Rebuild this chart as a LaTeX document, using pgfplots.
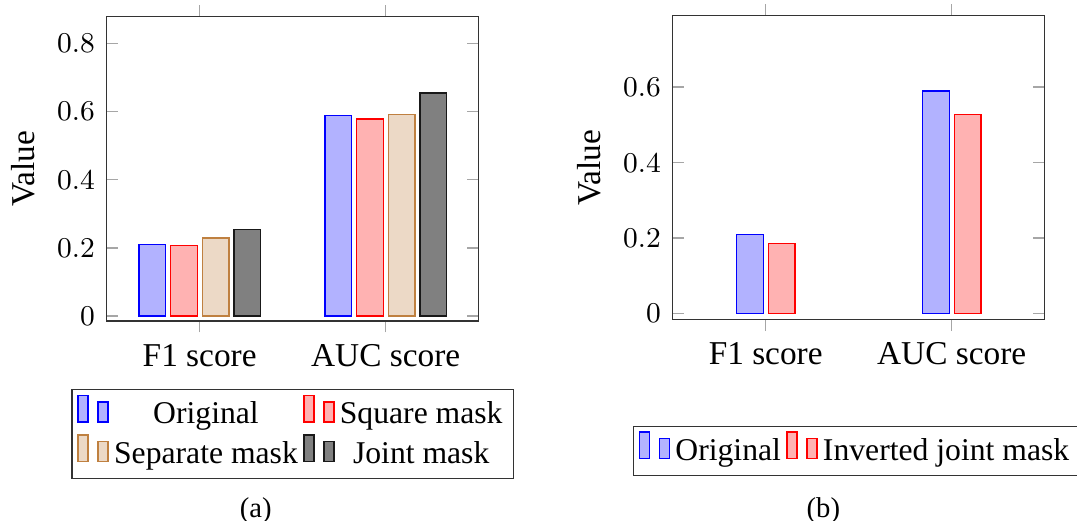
\documentclass[border=0pt]{standalone}
\usepackage{fontspec}
\setmainfont{Liberation Serif}
\newfontfamily\lmr{Latin Modern Roman}
\usepackage{pgfplots}
\pgfplotsset{compat=1.18}
\begin{document}
\begin{tikzpicture}
\useasboundingbox (0,0) rectangle (323.1pt,-156pt);
\pgfplotsset{
  mybar/.style={
    ybar, bar width=8pt, ybar=1.5pt,
    scale only axis, width=111.6pt, height=91.3pt,
    xmin=-0.5, xmax=1.5, xtick={0,1}, xticklabels={F1 score, AUC score},
    xtick align=outside, ytick align=inside,
    major tick length=3.4pt,
    every tick/.style={gray!70, line width=0.4pt},
    axis line style={black!80},
    /pgf/number format/assume math mode=true,
    yticklabel style={font=\lmr\fontsize{8.6}{10}\selectfont},
    xticklabel style={font=\fontsize{10}{12}\selectfont},
    ylabel={Value},
    every axis y label/.style={at={(axis description cs:-0.1935,0.5)}, rotate=90, anchor=base, font=\fontsize{10}{12}\selectfont},
    legend style={font=\fontsize{9.5}{11}\selectfont, draw=black!80,
      inner xsep=1.6pt, inner ysep=1.5pt, nodes={inner sep=1.6pt}},
    legend cell align=center,
    legend columns=2,
  }
}
\begin{axis}[mybar, at={(32pt,-5pt)}, anchor=north west,
  ymin=-0.0147, ymax=0.878, ytick={0,0.2,0.4,0.6,0.8},
  legend style={at={(0.5,-0.2235)}, anchor=north}]
\addplot[draw=blue, fill=blue!30] coordinates {(0,0.209) (1,0.588)};
\addplot[draw=red, fill=red!30] coordinates {(0,0.207) (1,0.578)};
\addplot[draw=brown, fill=brown!30] coordinates {(0,0.229) (1,0.592)};
\addplot[draw=black!90, fill=black!50] coordinates {(0,0.254) (1,0.654)};
\legend{Original, Square mask, Separate mask, Joint mask}
\end{axis}
\begin{axis}[mybar, at={(201.8pt,-4.6pt)}, anchor=north west,
  ymin=-0.0159, ymax=0.790, ytick={0,0.2,0.4,0.6},
  legend style={at={(0.4946,-0.348)}, anchor=north}]
\addplot[draw=blue, fill=blue!30] coordinates {(0,0.2096) (1,0.5895)};
\addplot[draw=red, fill=red!30] coordinates {(0,0.186) (1,0.528)};
\legend{Original, Inverted joint mask}
\end{axis}
\node[font=\fontsize{8.6}{10}\selectfont, anchor=base, inner sep=0pt] at (76.7pt,-155.3pt) {(a)};
\node[font=\fontsize{8.6}{10}\selectfont, anchor=base, inner sep=0pt] at (247pt,-155.3pt) {(b)};
\end{tikzpicture}
\end{document}
